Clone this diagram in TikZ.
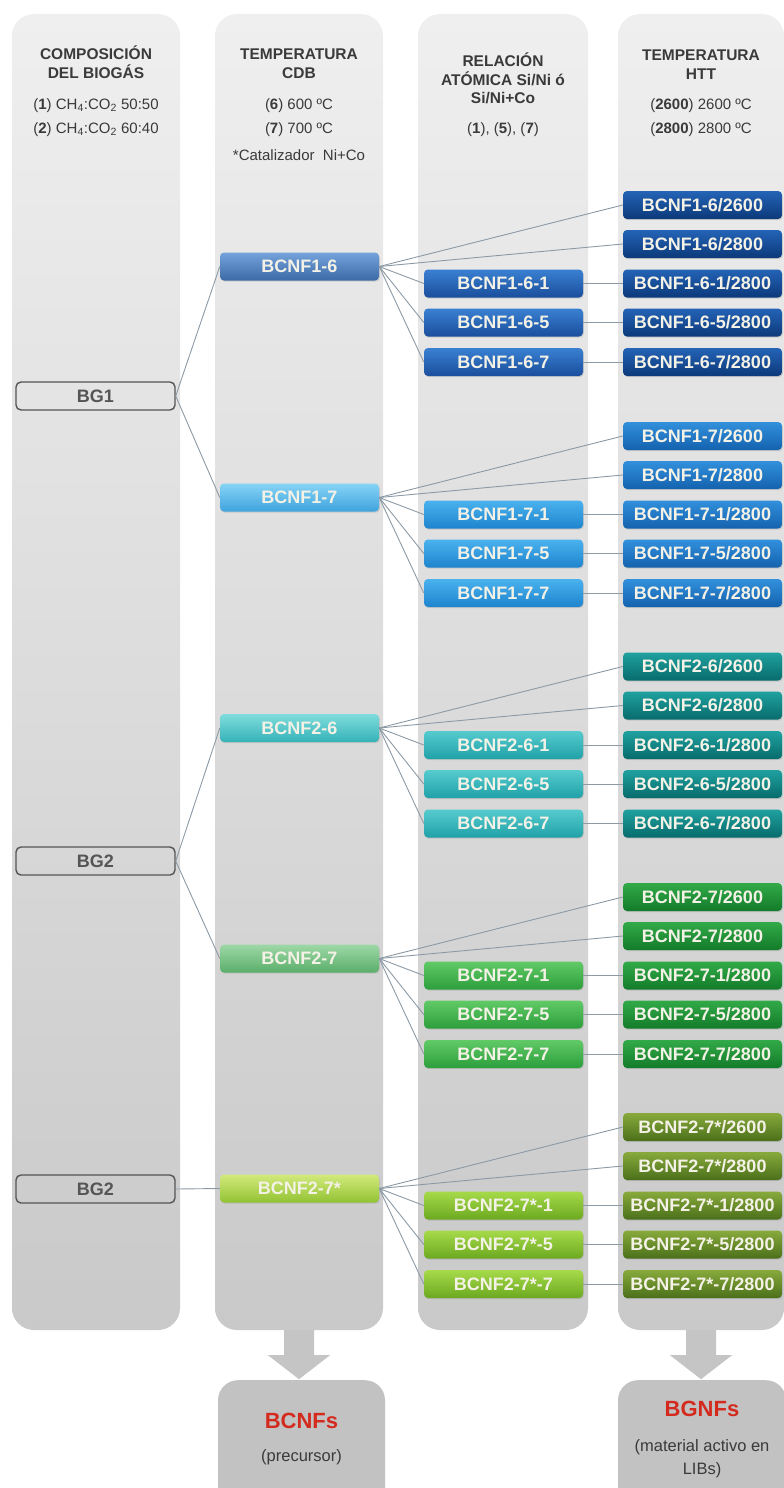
\documentclass[tikz,border=0pt]{standalone}
\usepackage{fontspec}
\setmainfont{Liberation Sans}
\usetikzlibrary{shadows,calc}
\definecolor{colT}{HTML}{EFEFEF}
\definecolor{colB}{HTML}{C9C9C9}
\definecolor{hdc}{HTML}{3A3A3A}
\definecolor{lnc}{HTML}{8C9AA6}
\definecolor{txtc}{HTML}{F4F1E6}
\definecolor{bgc}{HTML}{C2C2C2}
\definecolor{redc}{HTML}{D42A1E}
\definecolor{bgb}{HTML}{555555}
\definecolor{g1Ta}{HTML}{74A2DB}\definecolor{g1Tb}{HTML}{3B6AA6}
\definecolor{g1Ma}{HTML}{3A80D2}\definecolor{g1Mb}{HTML}{1A4E9C}
\definecolor{g1Ra}{HTML}{2463B6}\definecolor{g1Rb}{HTML}{0C397A}
\definecolor{g2Ta}{HTML}{86D4F6}\definecolor{g2Tb}{HTML}{3FA3DD}
\definecolor{g2Ma}{HTML}{4AB2EE}\definecolor{g2Mb}{HTML}{1E84CE}
\definecolor{g2Ra}{HTML}{3290DC}\definecolor{g2Rb}{HTML}{1462AE}
\definecolor{g3Ta}{HTML}{80DCDC}\definecolor{g3Tb}{HTML}{34B2B8}
\definecolor{g3Ma}{HTML}{56CBCE}\definecolor{g3Mb}{HTML}{1FA1A8}
\definecolor{g3Ra}{HTML}{1FA19F}\definecolor{g3Rb}{HTML}{086B6C}
\definecolor{g4Ta}{HTML}{9ED8A6}\definecolor{g4Tb}{HTML}{5AAE6A}
\definecolor{g4Ma}{HTML}{60CA66}\definecolor{g4Mb}{HTML}{2C9E3C}
\definecolor{g4Ra}{HTML}{32AA48}\definecolor{g4Rb}{HTML}{137B2A}
\definecolor{g5Ta}{HTML}{D2EA7C}\definecolor{g5Tb}{HTML}{92C232}
\definecolor{g5Ma}{HTML}{A6DA4A}\definecolor{g5Mb}{HTML}{6CA920}
\definecolor{g5Ra}{HTML}{88AA3C}\definecolor{g5Rb}{HTML}{4B6F1A}
\tikzset{
  colbg/.style={shape=rectangle, rounded corners=22pt, minimum height=1316pt, inner sep=0pt, top color=colT, bottom color=colB, draw=none},
  hd/.style={font=\fontsize{15.5}{19}\selectfont\bfseries, text=hdc, anchor=base, inner sep=0pt},
  sb/.style={font=\fontsize{15}{19}\selectfont, text=hdc, anchor=base, inner sep=0pt},
  bx/.style={shape=rectangle, rounded corners=4pt, minimum width=159pt, minimum height=28pt, inner sep=0pt,
    text height=12.5pt, text depth=0pt, font=\fontsize{18}{20}\selectfont\bfseries, text=txtc,
    drop shadow={opacity=0.25, shadow xshift=0.8pt, shadow yshift=-1.2pt}},
  bgbox/.style={shape=rectangle, rounded corners=5pt, minimum width=159pt, minimum height=28pt, inner sep=0pt,
    text height=12.5pt, text depth=0pt, draw=bgb, line width=1.4pt, font=\fontsize{18}{20}\selectfont\bfseries, text=bgb},
  ln/.style={draw=lnc, line width=0.9pt},
  botbox/.style={shape=rectangle, rounded corners=20pt, fill=bgc, inner sep=0pt, minimum height=130pt, anchor=north},
  fat/.style={fill=bgc!95!white},
  lbl/.style={anchor=base, inner sep=0pt},
}
\newcommand\mkgroup[3]{%
  \node[bx, top color=g#1Ta, bottom color=g#1Tb] (c#1) at (299.5, #3+61.5) {BCNF#2};
  \node[bx, top color=g#1Ra, bottom color=g#1Rb] (d#1a) at (702.5, #3) {BCNF#2/2600};
  \node[bx, top color=g#1Ra, bottom color=g#1Rb] (d#1b) at (702.5, #3+39) {BCNF#2/2800};
  \node[bx, top color=g#1Ra, bottom color=g#1Rb] (d#1c) at (702.5, #3+78.5) {BCNF#2-1/2800};
  \node[bx, top color=g#1Ra, bottom color=g#1Rb] (d#1d) at (702.5, #3+117.5) {BCNF#2-5/2800};
  \node[bx, top color=g#1Ra, bottom color=g#1Rb] (d#1e) at (702.5, #3+157) {BCNF#2-7/2800};
  \node[bx, top color=g#1Ma, bottom color=g#1Mb] (m#1c) at (503.5, #3+78.5) {BCNF#2-1};
  \node[bx, top color=g#1Ma, bottom color=g#1Mb] (m#1d) at (503.5, #3+117.5) {BCNF#2-5};
  \node[bx, top color=g#1Ma, bottom color=g#1Mb] (m#1e) at (503.5, #3+157) {BCNF#2-7};
  \draw[ln] (c#1.east) -- (d#1a.west);
  \draw[ln] (c#1.east) -- (d#1b.west);
  \draw[ln] (c#1.east) -- (m#1c.west);
  \draw[ln] (c#1.east) -- (m#1d.west);
  \draw[ln] (c#1.east) -- (m#1e.west);
  \draw[ln] (m#1c.east) -- (d#1c.west);
  \draw[ln] (m#1d.east) -- (d#1d.west);
  \draw[ln] (m#1e.east) -- (d#1e.west);
}
\newcommand\fatarrow[1]{%
  \fill[fat] ($(#1.south)+(-15,0)$) -- ($(#1.south)+(15,0)$) -- ($(#1.south)+(15,25)$) -- ($(#1.south)+(31,25)$)
    -- ($(#1.south)+(0,49)$) -- ($(#1.south)+(-31,25)$) -- ($(#1.south)+(-15,25)$) -- cycle;
}
\begin{document}
\begin{tikzpicture}[x=1pt,y=-1pt]
\useasboundingbox (0,0) rectangle (784,1488);
% columns
\node[colbg, minimum width=168pt] (colA) at (96,672) {};
\node[colbg, minimum width=168pt] (colB) at (299,672) {};
\node[colbg, minimum width=170pt] (colC) at (503,672) {};
\node[colbg, minimum width=166pt] (colD) at (701,672) {};
% headers
\node[hd] (h1a) at (96,59.5) {COMPOSICIÓN};
\node[hd] (h1b) at (96,78.5) {DEL BIOGÁS};
\node[sb] (h1c) at (96,109.5) {(\textbf{1}) CH\textsubscript{4}:CO\textsubscript{2} 50:50};
\node[sb] (h1d) at (96,133.5) {(\textbf{2}) CH\textsubscript{4}:CO\textsubscript{2} 60:40};
\node[hd] (h2a) at (299,59.5) {TEMPERATURA};
\node[hd] (h2b) at (299,78.5) {CDB};
\node[sb] (h2c) at (299,109.5) {(\textbf{6}) 600 ºC};
\node[sb] (h2d) at (299,133.5) {(\textbf{7}) 700 ºC};
\node[sb] (h2e) at (299,160) {*Catalizador\ \ Ni+Co};
\node[hd] (h3a) at (503,66.5) {RELACIÓN};
\node[hd] (h3b) at (503,85.5) {ATÓMICA Si/Ni ó};
\node[hd] (h3c) at (503,103.5) {Si/Ni+Co};
\node[sb] (h3d) at (503,133.5) {(\textbf{1}), (\textbf{5}), (\textbf{7})};
\node[hd] (h4a) at (701,60.5) {TEMPERATURA};
\node[hd] (h4b) at (701,79.5) {HTT};
\node[sb] (h4c) at (701,109.5) {(\textbf{2600}) 2600 ºC};
\node[sb] (h4d) at (701,133.5) {(\textbf{2800}) 2800 ºC};
% groups
\mkgroup{1}{1-6}{205}
\mkgroup{2}{1-7}{436}
\mkgroup{3}{2-6}{666.5}
\mkgroup{4}{2-7}{897}
\mkgroup{5}{2-7*}{1127}
% biogas nodes
\node[bgbox] (bg1) at (95.5,396) {BG1};
\node[bgbox] (bg2) at (95.5,861) {BG2};
\node[bgbox] (bg3) at (95.5,1189) {BG2};
\draw[ln] (bg1.east) -- (c1.west);
\draw[ln] (bg1.east) -- (c2.west);
\draw[ln] (bg2.east) -- (c3.west);
\draw[ln] (bg2.east) -- (c4.west);
\draw[ln] (bg3.east) -- (c5.west);
% bottom boxes
\node[botbox, minimum width=167pt] (outB) at (301.5,1380) {};
\node[botbox, minimum width=168pt] (outD) at (702,1380) {};
\fatarrow{colB}
\fatarrow{colD}
\node[lbl, font=\fontsize{22}{24}\selectfont\bfseries, text=redc] (t1) at (301.5,1428) {BCNFs};
\node[lbl, font=\fontsize{16.5}{20}\selectfont, text=hdc] (t2) at (301.5,1461) {(precursor)};
\node[lbl, font=\fontsize{22}{24}\selectfont\bfseries, text=redc] (t3) at (702,1416) {BGNFs};
\node[lbl, font=\fontsize{16.5}{20}\selectfont, text=hdc] (t4) at (702,1451) {(material activo en};
\node[lbl, font=\fontsize{16.5}{20}\selectfont, text=hdc] (t5) at (702,1474) {LIBs)};
\end{tikzpicture}
\end{document}
